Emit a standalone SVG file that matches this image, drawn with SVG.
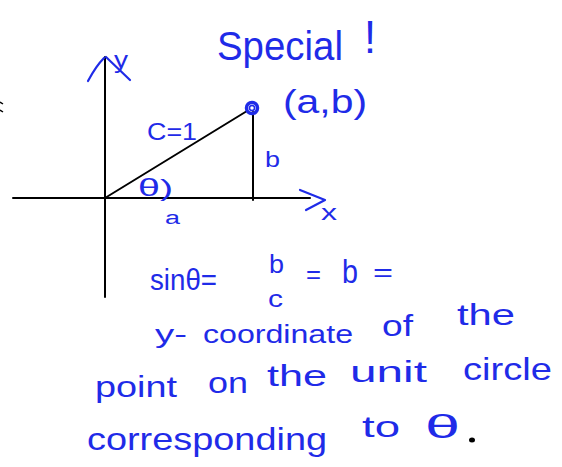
<svg xmlns="http://www.w3.org/2000/svg" width="562" height="467" viewBox="0 0 562 467">
<style>
.ax{stroke:#000;stroke-width:2;fill:none;stroke-linecap:round}
.ink{stroke:#1f2be8;stroke-width:2.2;fill:none;stroke-linecap:round;stroke-linejoin:round}
.t{font-family:"Liberation Sans","DejaVu Sans",sans-serif;fill:#1f2be8}
</style>
<rect width="562" height="467" fill="#fff"/>
<g id="axes">
<line class="ax" x1="13" y1="198" x2="310" y2="198"/>
<line class="ax" x1="105" y1="57" x2="105" y2="297"/>
<path class="ax" d="M105 198 L247 111"/>
<path class="ax" d="M253 112 L253 200"/>
<path d="M0 102 L3 104 M0 110 L3 112" stroke="#000" stroke-width="1.5"/>
</g>
<g id="arrows">
<path class="ink" d="M88 81 Q96 66 104 58"/>
<path class="ink" d="M106 57 L130 80"/>
<path class="ink" d="M300 190 L325 200 L306 210"/>
</g>
<g id="point">
<circle cx="252" cy="108" r="5.5" fill="none" stroke="#1f2be8" stroke-width="3.5"/>
<circle cx="252" cy="108" r="2.5" fill="none" stroke="#1f2be8" stroke-width="1.5"/>
</g>
<g id="labels">
<text class="t" x="114" y="68" font-size="24" textLength="14" lengthAdjust="spacingAndGlyphs">y</text>
<text class="t" x="321" y="220" font-size="22" textLength="16" lengthAdjust="spacingAndGlyphs">x</text>
<text class="t" x="217" y="60" font-size="40" textLength="126" lengthAdjust="spacingAndGlyphs">Special</text>
<text class="t" x="364" y="53" font-size="46" textLength="12" lengthAdjust="spacingAndGlyphs">!</text>
<text class="t" x="283" y="113" font-size="34" textLength="84" lengthAdjust="spacingAndGlyphs">(a,b)</text>
<text class="t" x="147" y="140" font-size="24" textLength="50" lengthAdjust="spacingAndGlyphs">C=1</text>
<text class="t" x="265" y="167" font-size="22" textLength="15" lengthAdjust="spacingAndGlyphs">b</text>
<text class="t" x="138" y="196" font-size="24" textLength="35" lengthAdjust="spacingAndGlyphs">θ)</text>
<text class="t" x="165" y="224" font-size="18" textLength="15" lengthAdjust="spacingAndGlyphs">a</text>
</g>
<g id="formula">
<text class="t" x="150" y="290" font-size="30" textLength="67" lengthAdjust="spacingAndGlyphs">sinθ=</text>
<text class="t" x="269" y="273" font-size="26" textLength="15" lengthAdjust="spacingAndGlyphs">b</text>
<text class="t" x="268" y="307" font-size="24" textLength="15" lengthAdjust="spacingAndGlyphs">c</text>
<text class="t" x="306" y="283" font-size="26" textLength="15" lengthAdjust="spacingAndGlyphs">=</text>
<text class="t" x="342" y="283" font-size="34" textLength="16" lengthAdjust="spacingAndGlyphs">b</text>
<text class="t" x="373" y="281" font-size="26" textLength="20" lengthAdjust="spacingAndGlyphs">=</text>
</g>
<g id="sentence">
<text class="t" x="155" y="343" font-size="26" textLength="32" lengthAdjust="spacingAndGlyphs">y-</text>
<text class="t" x="203" y="343" font-size="26" textLength="150" lengthAdjust="spacingAndGlyphs">coordinate</text>
<text class="t" x="382" y="336" font-size="30" textLength="31" lengthAdjust="spacingAndGlyphs">of</text>
<text class="t" x="457" y="325" font-size="30" textLength="58" lengthAdjust="spacingAndGlyphs">the</text>
<text class="t" x="95" y="397" font-size="30" textLength="82" lengthAdjust="spacingAndGlyphs">point</text>
<text class="t" x="208" y="393" font-size="30" textLength="40" lengthAdjust="spacingAndGlyphs">on</text>
<text class="t" x="267" y="386" font-size="30" textLength="60" lengthAdjust="spacingAndGlyphs">the</text>
<text class="t" x="350" y="382" font-size="30" textLength="77" lengthAdjust="spacingAndGlyphs">unit</text>
<text class="t" x="463" y="380" font-size="32" textLength="89" lengthAdjust="spacingAndGlyphs">circle</text>
<text class="t" x="87" y="450" font-size="32" textLength="240" lengthAdjust="spacingAndGlyphs">corresponding</text>
<text class="t" x="362" y="437" font-size="30" textLength="38" lengthAdjust="spacingAndGlyphs">to</text>
<text class="t" x="425" y="438" font-size="34" textLength="35" lengthAdjust="spacingAndGlyphs">θ</text>
<ellipse cx="472" cy="440" rx="3" ry="2.5" fill="#000"/>
</g>
</svg>
